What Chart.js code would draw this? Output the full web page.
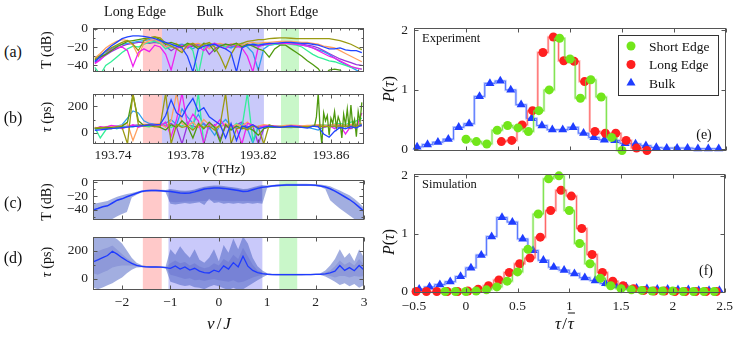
<!DOCTYPE html>
<html>
<head>
<meta charset="utf-8">
<script src="https://cdn.jsdelivr.net/npm/chart.js@4.4.1/dist/chart.umd.min.js"></script>
<style>
  body { margin: 0; background: #fff; }
  #fig { position: relative; width: 736px; height: 337px; overflow: hidden; background: #fff;
         font-family: "Liberation Serif", "DejaVu Serif", serif; color: #111; }
  #fig canvas { position: absolute; }
  .lbl { position: absolute; white-space: nowrap; transform: translate(-50%, -50%); font-size: 14px; line-height: 1; z-index: 2; }
  .rot { transform: translate(-50%, -50%) rotate(-90deg); }
  .la { transform: translate(0, -50%); }
  .bar { text-decoration: overline; }
</style>
</head>
<body>
<div id="fig">
  <div class="lbl" style="left:135px;top:12px">Long Edge</div>
  <div class="lbl" style="left:210px;top:12px">Bulk</div>
  <div class="lbl" style="left:287px;top:12px">Short Edge</div>
  <div class="lbl" style="left:13px;top:52px;font-size:16px">(a)</div>
  <div class="lbl" style="left:13px;top:118px;font-size:16px">(b)</div>
  <div class="lbl" style="left:13px;top:203px;font-size:16px">(c)</div>
  <div class="lbl" style="left:13px;top:258px;font-size:16px">(d)</div>
  <div class="lbl rot" style="left:47px;top:50px;font-size:14px">T (dB)</div>
  <div class="lbl rot" style="left:47px;top:117px;font-size:14px"><i>τ</i> (ps)</div>
  <div class="lbl rot" style="left:47px;top:202px;font-size:14px">T (dB)</div>
  <div class="lbl rot" style="left:47px;top:262px;font-size:14px"><i>τ</i> (ps)</div>
  <div class="lbl" style="left:224px;top:169px;font-size:13.5px"><i>ν</i> (THz)</div>
  <div class="lbl" style="left:220px;top:323px;font-size:17px;letter-spacing:2px"><i>ν</i>/<i>J</i></div>
  <div class="lbl rot" style="left:389px;top:89px;font-size:16px"><i>P</i>(<i>τ</i>)</div>
  <div class="lbl rot" style="left:389px;top:242px;font-size:16px"><i>P</i>(<i>τ</i>)</div>
  <div class="lbl" style="left:565px;top:323px;font-size:17px;letter-spacing:1px"><i>τ</i>/<i class="bar">τ</i></div>
  <div class="lbl la" style="left:422px;top:38px;font-size:12.5px">Experiment</div>
  <div class="lbl la" style="left:422px;top:184px;font-size:12.5px">Simulation</div>
  <div class="lbl" style="left:704px;top:135px;font-size:14px">(e)</div>
  <div class="lbl" style="left:706px;top:271px;font-size:14px">(f)</div>
</div>
<script>
// ===============================
// DATA
// ===============================

// (a)/(b) measured traces, frequency in THz
const thzGrid = [193.730,193.733,193.736,193.739,193.742,193.745,193.748,193.751,193.754,193.757,
  193.760,193.763,193.766,193.769,193.772,193.775,193.778,193.781,193.784,193.787,
  193.790,193.793,193.796,193.799,193.802,193.805,193.808,193.811,193.814,193.817,
  193.820,193.823,193.826,193.829,193.832,193.835,193.838,193.841,193.844,193.847,
  193.850,193.853,193.856,193.859,193.862,193.865,193.868,193.871,193.874,193.877];
const thzTicks = [193.74, 193.78, 193.82, 193.86];
const longEdgeTHz = [193.7565, 193.767];
const bulkTHz = [193.767, 193.8231];
const shortEdgeTHz = [193.8325, 193.8424];

const traceColors = ['#2244ff', '#9a9a12', '#4f9a0f', '#ee22ee', '#ffa060', '#33ee99', '#2f9cf0', '#9933dd'];

// T (dB)
const aBlue = [-36,-30,-24,-19,-15,-11,-9,-8,-8,-8.5,-9.5,-11,-13,-15,-17,-19,-21,-30,-47,-22,-19,-18,-17,-20,-22,-26,-47,-21,-18,-17,-18,-17,-16,-16,-15.5,-15,-15,-15.5,-16,-16,-17,-18,-20,-22,-22,-21,-23,-24,-24,-26];
const aOlive = [-33,-29,-25,-21,-18,-15,-13,-17,-24,-13,-10,-9,-10,-16,-19,-22,-26,-18,-16,-20,-17,-15,-20,-30,-43,-28,-18,-16,-14,-13,-12,-12,-11,-10.5,-10,-10,-10.5,-11,-11,-11,-11,-11,-11,-11,-12,-13,-15,-17,-20,-23];
const aGreen = [-34,-31,-28,-24,-20,-17,-14,-13,-12,-11,-10,-9,-12,-17,-15,-17,-20,-16,-18,-22,-16,-17,-25,-19,-17,-18,-16,-20,-17,-19,-22,-24,-31,-22,-18,-18,-22,-26,-30,-35,-39,-43.5,-52,-45,-44,-45,-52,-52,-52,-52];
const aMagenta = [-38,-34,-28,-23,-21,-20,-24,-41,-26,-22,-25,-18,-20,-28,-45,-22,-18,-20,-17,-19,-24,-18,-16,-19,-22,-17,-19,-21,-30,-47,-20,-17,-17,-16,-16,-16,-16.5,-17,-18,-19,-21,-24,-27,-30,-32,-35,-38,-41,-43,-44];
const aOrange = [-32,-27,-21,-17,-14,-12,-13,-18,-30,-16,-13,-12,-15,-20,-18,-16,-24,-19,-17,-16,-18,-22,-17,-16,-18,-17,-16,-18,-16,-15,-16,-15,-15,-14.5,-14,-14,-14,-14.5,-15,-15,-16,-17,-19,-20,-21,-24,-27,-30,-33,-36];
const aMint = [-42,-50,-40,-36,-31,-26,-22,-19,-20,-17,-15,-14,-16,-22,-19,-17,-20,-17,-24,-50,-21,-17,-16,-18,-20,-17,-18,-16,-19,-17,-16,-17,-18,-17,-16,-16,-17,-18,-20,-24,-28,-31,-33,-35,-36,-38,-40,-42,-43,-44];
const aSky = [-35,-31,-27,-22,-19,-17,-16,-15,-14,-13,-12,-13,-14,-17,-20,-18,-17,-19,-22,-18,-17,-20,-18,-17,-19,-21,-18,-17,-20,-26,-45,-22,-18,-17,-16,-16,-16,-17,-18,-19,-21,-23,-25,-28,-32,-36,-39,-42,-45,-48];
const aPurple = [-37,-33,-29,-25,-22,-19,-17,-16,-15,-15,-16,-15,-16,-19,-24,-20,-18,-21,-19,-17,-19,-28,-22,-18,-17,-19,-20,-18,-17,-18,-19,-18,-17,-17,-16.5,-16,-16,-16.5,-17,-18,-19,-21,-24,-27,-30,-33,-35,-37,-39,-40];

// tau (ps)
const bBlue = [18,22,26,30,34,38,42,46,50,54,57,60,63,130,250,150,120,200,260,160,190,120,90,60,-40,70,-60,50,40,60,30,40,50,45,40,45,50,45,40,35,50,45,-10,-35,10,40,30,45,35,60];
const bOlive = [35,40,35,30,45,40,-85,300,60,50,55,45,50,300,-85,60,40,50,20,60,40,50,20,60,300,-85,30,40,20,50,40,-85,60,45,42,44,46,45,44,46,48,50,48,46,50,52,48,50,52,55];
const bGreenX = [193.730,193.733,193.736,193.739,193.742,193.745,193.748,193.751,193.754,193.757,
  193.760,193.763,193.766,193.769,193.772,193.775,193.778,193.781,193.784,193.787,
  193.790,193.793,193.796,193.799,193.802,193.805,193.808,193.811,193.814,193.817,
  193.820,193.823,193.826,193.829,193.832,193.835,193.838,193.841,193.844,193.847,193.850,
  193.851,193.852,193.853,193.854,193.855,193.856,193.857,193.858,193.859,193.860,
  193.861,193.862,193.863,193.864,193.865,193.866,193.867,193.868,193.869,193.870,
  193.871,193.872,193.873,193.874,193.875,193.876,193.877];
const bGreen = [30,35,40,38,42,50,80,290,90,55,60,50,40,20,60,40,90,50,-40,70,30,80,40,-70,60,20,50,30,40,20,-20,30,45,40,42,45,48,44,40,45,48,
  52,120,300,40,-90,150,90,130,-20,110,70,160,40,120,80,-40,140,60,180,30,210,50,100,-30,160,80,230];
const bMagenta = [30,45,40,55,50,30,45,60,40,55,65,60,50,80,-30,100,300,60,140,90,-85,70,50,100,40,60,30,-85,70,60,40,50,55,50,45,48,52,50,47,45,48,52,40,55,30,60,-10,50,40,150];
const bOrange = [40,35,45,50,45,55,70,-60,50,60,55,65,70,40,90,300,70,50,80,40,100,60,50,40,70,40,60,50,80,45,50,60,55,52,50,55,58,55,52,55,57,60,55,58,62,60,58,62,65,70];
const bMint = [40,-40,20,45,30,40,50,45,55,50,45,60,55,70,40,60,50,80,30,300,-85,60,40,50,60,30,70,40,300,-60,50,40,45,48,50,52,55,50,48,52,55,58,60,55,65,70,60,80,90,110];
const bSky = [25,30,35,40,50,60,110,165,150,90,70,65,60,70,100,60,180,120,70,140,60,40,-20,60,100,50,40,70,30,-80,40,50,40,42,44,40,38,42,45,40,30,20,40,50,45,35,50,60,55,65];
const bPurple = [35,40,38,42,45,48,50,55,60,58,62,64,60,50,70,40,-85,60,50,40,70,30,60,-50,50,40,60,80,40,50,-85,30,45,47,46,48,50,49,47,48,50,52,48,50,52,40,55,30,60,50];

// (c)/(d) simulation vs nu/J
const nuGrid = [-2.6,-2.5,-2.4,-2.3,-2.2,-2.1,-2,-1.9,-1.8,-1.7,-1.6,-1.5,-1.4,-1.3,-1.2,-1.1,-1,-0.9,-0.8,-0.7,
  -0.6,-0.5,-0.4,-0.3,-0.2,-0.1,0,0.1,0.2,0.3,0.4,0.5,0.6,0.7,0.8,0.9,1,1.1,1.2,1.3,
  1.4,1.5,1.6,1.7,1.8,1.9,2,2.1,2.2,2.3,2.4,2.5,2.6,2.7,2.8,2.9,3];
const nuTicks = [-2, -1, 0, 1, 2, 3];
const longEdgeNu = [-1.57, -1.18];
const bulkNu = [-1.04, 0.9];
const shortEdgeNu = [1.25, 1.62];

const cMean = [-40,-38,-35.5,-34,-30,-26,-24,-21,-18.5,-16,-13.5,-12.5,-12,-12,-12.5,-13,-13.5,-14.5,-15.5,-16,-15.5,-14,-12,-10,-9,-8.5,-8.5,-9,-10,-11,-12,-13.5,-13,-11,-9,-7.5,-6.5,-5.5,-5,-4.5,-4,-4,-4,-4,-4,-4.2,-4.5,-5.5,-7,-9.5,-13,-17,-21,-25,-30,-36,-42];
const cLightHi = [-31,-30,-28.5,-27,-24,-21,-19,-17,-15.5,-14,-12,-11,-10.5,-10.5,-11,-11.5,-10,-11,-12,-12.5,-12,-10.5,-8.5,-6.5,-5.5,-5,-5,-5.5,-6.5,-7.5,-8.5,-10,-9.5,-7.5,-5.5,-4,-5,-4,-3.5,-3,-2.5,-2.5,-2.5,-2.5,-2.5,-2.7,-3,-3.5,-4.5,-6,-9,-12,-15.5,-19,-24,-30,-37];
const cLightLo = [-56,-56,-56,-56,-53,-49,-46,-43,-22,-18,-15,-14,-13.5,-13.5,-14,-14.5,-31,-32,-31,-30,-31,-30,-29,-33,-24,-30,-29,-31,-30,-31,-30,-31,-30,-31,-30,-31,-8,-7,-6.5,-6,-5.5,-5.5,-5.5,-5.5,-5.5,-5.7,-6,-7,-10,-26,-32,-38,-43,-48,-53,-56,-56];
const cDarkX = [-1.04,-0.9,-0.7,-0.5,-0.3,-0.1,0.1,0.3,0.5,0.7,0.9];
const cDarkHi = [-10.5,-12,-13.5,-11.5,-7.5,-6,-6.5,-8.5,-11,-8.5,-5];
const cDarkLo = [-28,-29,-28,-27.5,-27,-26,-27,-27.5,-27,-27.5,-27.5];

const dMean = [120,135,150,165,195,175,150,128,110,96,88,85,84,84,83,80,75,92,70,85,62,75,55,45,42,62,50,92,70,115,85,160,90,60,45,38,33,31,30,30,30,30,30,30,31,31,32,33,36,42,55,95,60,80,58,95,62];
const dLightHi = [300,300,300,290,300,280,250,200,150,115,98,92,90,90,89,87,210,170,230,185,150,210,135,115,150,210,125,240,185,285,210,300,250,150,90,60,40,37,36,36,36,36,36,36,37,37,38,40,60,95,140,210,150,185,125,210,150];
const dLightLo = [-60,-72,-60,-45,-30,-10,10,40,65,80,82,80,79,79,78,75,-20,-30,-42,-50,-45,-58,-62,-72,-55,-42,-52,-66,-78,-62,-78,-72,-52,-30,-10,10,27,26,25,25,25,25,25,25,26,26,27,27,18,0,-20,-42,-30,-52,-36,-62,-42];
const dDarkHi = [175,195,210,220,235,205,175,145,122,102,93,90,89,89,88,85,110,130,110,120,95,110,88,75,85,110,95,140,120,170,140,220,160,100,60,45,37,35,34,34,34,34,34,34,35,35,36,38,45,60,90,130,100,120,95,140,100];
const dDarkLo = [40,30,45,60,80,90,95,95,95,88,84,81,80,80,79,76,30,20,10,0,5,-10,-5,-15,-5,0,-10,-15,-20,-10,-25,-20,-5,10,20,28,29,27,26,26,26,26,26,26,27,27,28,29,28,20,10,20,20,10,20,15,20];

// (e)/(f) delay histograms, tau / mean tau
const tauTicks = [-0.5, 0, 0.5, 1, 1.5, 2, 2.5];
const pTicks = [0, 1, 2];
const legendNames = ['Short Edge', 'Long Edge', 'Bulk'];

const eBulkX = [-0.47,-0.37,-0.27,-0.17,-0.07,0.03,0.13,0.23,0.33,0.43,0.53,0.63,0.73,0.83,0.93,1.03,1.13,1.23,1.33,1.43,1.53,1.63,1.73,1.83,1.93,2.03,2.13,2.23,2.33,2.43];
const eBulkY = [0.04,0.08,0.12,0.17,0.37,0.43,0.89,1.11,1.15,1.0,0.75,0.52,0.40,0.33,0.33,0.37,0.27,0.2,0.16,0.15,0.1,0.09,0.06,0.03,0.02,0.02,0.02,0.01,0.01,0.01];
const eShortX = [0,0.1,0.2,0.3,0.4,0.5,0.6,0.7,0.8,0.9,1,1.1,1.2,1.3,1.4,1.5];
const eShortY = [0.17,0.13,0.09,0.32,0.4,0.36,0.3,0.65,1.0,1.87,1.52,0.86,1.17,0.88,0.2,-0.02];
const eLongX = [0.34,0.44,0.54,0.64,0.74,0.84,0.94,1.04,1.14,1.24,1.34,1.44,1.54,1.64,1.74];
const eLongY = [0.13,0.15,0.41,0.65,1.63,1.89,1.49,1.48,1.14,0.3,0.27,0.27,0.15,0.02,-0.02];

const fBulkX = [-0.45,-0.35,-0.25,-0.15,-0.05,0.05,0.15,0.25,0.35,0.45,0.55,0.65,0.75,0.85,0.95,1.05,1.15,1.25,1.35,1.45,1.55,1.65,1.75,1.85,1.95,2.05,2.15,2.25,2.35,2.45];
const fBulkY = [0.04,0.08,0.12,0.17,0.26,0.41,0.63,0.95,1.28,1.2,0.91,0.71,0.54,0.42,0.37,0.31,0.24,0.19,0.14,0.1,0.08,0.06,0.05,0.04,0.04,0.03,0.03,0.02,0.02,0.02];
const fShortX = [-0.2,-0.1,0,0.1,0.2,0.3,0.4,0.5,0.6,0.7,0.8,0.9,1,1.1,1.2,1.3,1.4,1.5,1.6,1.7,1.8,1.9,2,2.1,2.2,2.3,2.4];
const fShortY = [0,0,0,0.01,0.03,0.08,0.18,0.34,0.73,1.34,1.95,2.0,1.4,0.83,0.48,0.23,0.1,0.05,0.03,0.02,0.01,0.01,0.01,0,0,0,0];
const fLongX = [-0.48,-0.38,-0.28,-0.18,-0.08,0.02,0.12,0.22,0.32,0.42,0.52,0.62,0.72,0.82,0.92,1.02,1.12,1.22,1.32,1.42,1.52,1.62,1.72,1.82,1.92,2.02,2.12,2.22,2.32,2.42];
const fLongY = [0,0,0,0,0,0.01,0.04,0.1,0.2,0.33,0.48,0.58,0.94,1.4,1.75,1.65,1.09,0.64,0.33,0.18,0.1,0.05,0.02,0.01,0.01,0,0,0,0,0];

// ===============================
// HELPERS
// ===============================
const FONT = '"Liberation Serif", "DejaVu Serif", serif';
const fig = document.getElementById('fig');
const fmt = v => (v < 0 ? '\u2212' + (-v) : String(v));
const pts = (xs, ys) => xs.map((x, i) => ({ x: x, y: ys[i] }));

const PINK = '#ffc9c9', LAVENDER = '#c9c9fa', MINT = '#c9f7c9';

function axis(min, max, ticks, showLabels, pad) {
  return {
    type: 'linear', min: min, max: max,
    grid: { display: false, drawTicks: false },
    border: { display: false },
    afterBuildTicks: s => { s.ticks = ticks.map(v => ({ value: v })); },
    ticks: {
      display: showLabels, padding: pad, autoSkip: false, maxRotation: 0, minRotation: 0,
      color: '#222', font: { family: FONT, size: 13.5 },
      callback: v => fmt(v)
    }
  };
}

// box + inner tick marks on all four sides
function frame(xMinor, yMinor) {
  return {
    id: 'frame',
    afterDatasetsDraw(chart) {
      const { ctx, chartArea: a } = chart;
      const x = chart.scales.x, y = chart.scales.y;
      const L = Math.round(a.left) + 0.5, R = Math.round(a.right) - 0.5;
      const T = Math.round(a.top) + 0.5, B = Math.round(a.bottom) - 0.5;
      ctx.save();
      ctx.strokeStyle = '#555';
      ctx.lineWidth = 1;
      ctx.beginPath();
      const markX = (vals, len) => vals.forEach(v => {
        const p = Math.round(x.getPixelForValue(v)) + 0.5;
        ctx.moveTo(p, B); ctx.lineTo(p, B - len);
        ctx.moveTo(p, T); ctx.lineTo(p, T + len);
      });
      const markY = (vals, len) => vals.forEach(v => {
        const p = Math.round(y.getPixelForValue(v)) + 0.5;
        ctx.moveTo(L, p); ctx.lineTo(L + len, p);
        ctx.moveTo(R, p); ctx.lineTo(R - len, p);
      });
      markX(x.ticks.map(t => t.value), 4);
      markY(y.ticks.map(t => t.value), 4);
      markX(xMinor, 2);
      markY(yMinor, 2);
      ctx.stroke();
      ctx.strokeRect(L, T, R - L, B - T);
      ctx.restore();
    }
  };
}

// coloured frequency regions behind the data
function shade(regions) {
  return {
    id: 'shade',
    beforeDatasetsDraw(chart) {
      const { ctx, chartArea: a, scales: { x } } = chart;
      ctx.save();
      regions.forEach(r => {
        const x0 = x.getPixelForValue(r[0]), x1 = x.getPixelForValue(r[1]);
        ctx.fillStyle = r[2];
        ctx.fillRect(x0, a.top, x1 - x0, a.bottom - a.top);
      });
      ctx.restore();
    }
  };
}

function marker(ctx, style, cx, cy, r) {
  ctx.beginPath();
  if (style === 'triangle') {
    ctx.moveTo(cx, cy - r);
    ctx.lineTo(cx + r * 0.866, cy + r * 0.5);
    ctx.lineTo(cx - r * 0.866, cy + r * 0.5);
    ctx.closePath();
  } else {
    ctx.arc(cx, cy, r, 0, Math.PI * 2);
  }
  ctx.fill();
}

function legendBox(items) {
  return {
    id: 'legendBox',
    afterDraw(chart) {
      const { ctx, chartArea: a } = chart;
      const bx = Math.round(a.right) - 108, by = Math.round(a.top) + 7;
      ctx.save();
      ctx.fillStyle = '#fff';
      ctx.fillRect(bx, by, 100, 60);
      ctx.strokeStyle = '#333';
      ctx.lineWidth = 1;
      ctx.strokeRect(bx + 0.5, by + 0.5, 100, 60);
      ctx.font = '13.5px ' + FONT;
      ctx.textBaseline = 'middle';
      items.forEach((it, i) => {
        const cy = by + 11 + i * 18.5;
        ctx.fillStyle = it.color;
        marker(ctx, it.style, bx + 13, cy, it.style === 'triangle' ? 5.2 : 4.5);
        ctx.fillStyle = '#111';
        ctx.fillText(it.text, bx + 31, cy + 1);
      });
      ctx.restore();
    }
  };
}

function panel(area, pad, datasets, x, y, plugins) {
  const c = document.createElement('canvas');
  const w = area[2] - area[0] + pad.l + pad.r;
  const h = area[3] - area[1] + pad.t + pad.b;
  c.width = w;
  c.height = h;
  c.style.left = (area[0] - pad.l) + 'px';
  c.style.top = (area[1] - pad.t) + 'px';
  c.style.width = w + 'px';
  c.style.height = h + 'px';
  fig.appendChild(c);
  x.afterFit = s => { s.height = pad.b; };
  y.afterFit = s => { s.width = pad.l; };
  return new Chart(c, {
    type: 'line',
    data: { datasets: datasets },
    options: {
      responsive: false, animation: false, devicePixelRatio: 1, events: [],
      layout: { padding: { left: 0, top: pad.t, right: pad.r, bottom: 0 } },
      scales: { x: x, y: y },
      plugins: { legend: { display: false }, tooltip: { enabled: false } }
    },
    plugins: plugins
  });
}

function trace(xs, ys, color) {
  return { data: pts(xs, ys), borderColor: color, borderWidth: 1.3, pointRadius: 0, tension: 0, fill: false };
}

function band(xs, ys, color, order, fill) {
  return { data: pts(xs, ys), borderWidth: 0, borderColor: 'rgba(0,0,0,0)', backgroundColor: color,
           pointRadius: 0, tension: 0, fill: fill, order: order };
}

function stepSeries(xs, ys, line, pale, fillColor, style, order) {
  return [
    { data: pts(xs, ys), stepped: 'middle', borderColor: pale, borderWidth: 2.5, pointRadius: 0, order: 10 + order, clip: false },
    { data: pts(xs, ys), stepped: 'middle', borderColor: line, borderWidth: 0.9, pointStyle: style,
      pointRadius: style === 'triangle' ? 5.2 : 4.5, pointBackgroundColor: fillColor, pointBorderWidth: 0,
      order: order, clip: false }
  ];
}

// ===============================
// LEFT COLUMN
// ===============================
const thzMinor = [];
for (let k = 0; k <= 29; k++) thzMinor.push(193.73 + 0.005 * k);
const thzShading = [[longEdgeTHz[0], longEdgeTHz[1], PINK], [bulkTHz[0], bulkTHz[1], LAVENDER], [shortEdgeTHz[0], shortEdgeTHz[1], MINT]];
const nuShading = [[longEdgeNu[0], longEdgeNu[1], PINK], [bulkNu[0], bulkNu[1], LAVENDER], [shortEdgeNu[0], shortEdgeNu[1], MINT]];

const aSeries = [aBlue, aOlive, aGreen, aMagenta, aOrange, aMint, aSky, aPurple];
panel([93, 25, 364, 79], { l: 60, t: 10, r: 8, b: 6 },
  aSeries.map((ys, i) => trace(thzGrid, ys, traceColors[i])),
  axis(193.729, 193.8782, thzTicks, false, 3),
  axis(-47, 0.5, [0, -20, -40], true, 5),
  [shade(thzShading), frame(thzMinor, [-10, -30])]);

const bSets = [
  trace(thzGrid, bBlue, traceColors[0]),
  trace(thzGrid, bOlive, traceColors[1]),
  trace(bGreenX, bGreen, traceColors[2]),
  trace(thzGrid, bMagenta, traceColors[3]),
  trace(thzGrid, bOrange, traceColors[4]),
  trace(thzGrid, bMint, traceColors[5]),
  trace(thzGrid, bSky, traceColors[6]),
  trace(thzGrid, bPurple, traceColors[7])
];
panel([93, 91, 364, 144], { l: 60, t: 10, r: 8, b: 22 }, bSets,
  axis(193.729, 193.8782, thzTicks, true, 3),
  axis(-86, 293, [0, 200], true, 5),
  [shade(thzShading), frame(thzMinor, [100])]);

const LIGHT = 'rgba(60,85,190,0.48)', DARK = 'rgba(60,70,190,0.2)', MEAN = '#1f3bff';

panel([93, 177, 364, 227], { l: 60, t: 10, r: 8, b: 6 }, [
    band(nuGrid, cLightHi, LIGHT, 4, '+1'),
    band(nuGrid, cLightLo, LIGHT, 3, false),
    band(cDarkX, cDarkHi, DARK, 2, '+1'),
    band(cDarkX, cDarkLo, DARK, 1, false),
    Object.assign(trace(nuGrid, cMean, MEAN), { borderWidth: 1.5, order: 0 })
  ],
  axis(-2.6, 3, nuTicks, false, 3),
  axis(-54.3, 2.9, [0, -20, -40], true, 5),
  [shade(nuShading), frame([], [-10, -30, -50])]);

panel([93, 234, 364, 290], { l: 60, t: 10, r: 12, b: 24 }, [
    band(nuGrid, dLightHi, LIGHT, 4, '+1'),
    band(nuGrid, dLightLo, LIGHT, 3, false),
    band(nuGrid, dDarkHi, DARK, 2, '+1'),
    band(nuGrid, dDarkLo, DARK, 1, false),
    Object.assign(trace(nuGrid, dMean, MEAN), { borderWidth: 1.3, order: 0 })
  ],
  axis(-2.6, 3, nuTicks, true, 4),
  axis(-78, 295, [0, 200], true, 5),
  [shade(nuShading), frame([], [100])]);

// ===============================
// RIGHT COLUMN
// ===============================
const GREEN = '#72e61a', RED = '#ff1f1f', BLUE = '#1f3dff';
const legendItems = [
  { text: legendNames[0], color: GREEN, style: 'circle' },
  { text: legendNames[1], color: RED, style: 'circle' },
  { text: legendNames[2], color: BLUE, style: 'triangle' }
];

panel([414, 24, 726, 155], { l: 30, t: 10, r: 8, b: 10 }, [
    ...stepSeries(eShortX, eShortY, '#6ee03a', '#d3f5bf', GREEN, 'circle', 0),
    ...stepSeries(eLongX, eLongY, '#ff5a5a', '#ffc7c7', RED, 'circle', 1),
    ...stepSeries(eBulkX, eBulkY, '#4a6cff', '#c0ccff', BLUE, 'triangle', 2)
  ],
  axis(-0.5, 2.5, tauTicks, false, 4),
  axis(-0.027, 2.04, pTicks, true, 6),
  [frame([], []), legendBox(legendItems)]);

panel([414, 170, 726, 293], { l: 30, t: 10, r: 12, b: 26 }, [
    ...stepSeries(fShortX, fShortY, '#6ee03a', '#d3f5bf', GREEN, 'circle', 0),
    ...stepSeries(fLongX, fLongY, '#ff5a5a', '#ffc7c7', RED, 'circle', 1),
    ...stepSeries(fBulkX, fBulkY, '#4a6cff', '#c0ccff', BLUE, 'triangle', 2)
  ],
  axis(-0.5, 2.5, tauTicks, true, 5),
  axis(-0.025, 2.03, pTicks, true, 6),
  [frame([], [])]);
</script>
</body>
</html>
